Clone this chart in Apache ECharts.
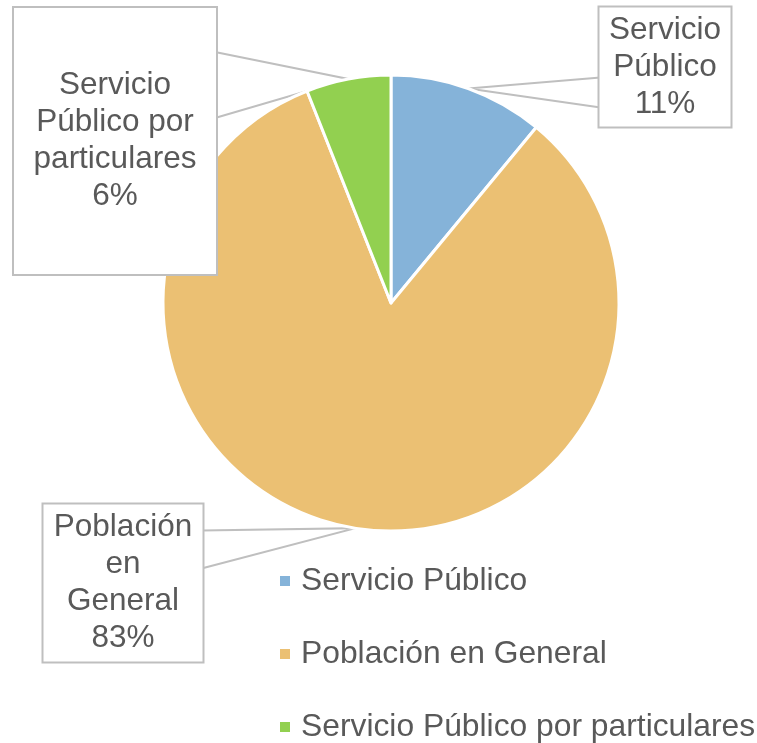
<!DOCTYPE html>
<html>
<head>
<meta charset="utf-8">
<style>
html, body { margin: 0; padding: 0; background: #fff; }
#chart { width: 757px; height: 743px; }
</style>
<script src="https://cdn.jsdelivr.net/npm/echarts@6/dist/echarts.min.js"></script>
</head>
<body>
<div id="chart"></div>
<script>
// categories and values (percent of total)
var categories = ['Servicio Público', 'Población en General', 'Servicio Público por particulares'];
var values = [11, 83, 6];
// how each callout wraps its name
var wrappedNames = ['Servicio\nPúblico', 'Población\nen\nGeneral', 'Servicio\nPúblico por\nparticulares'];
var colors = ['#85b3d9', '#ebc073', '#92d050'];

// callout boxes: center, size, and where the pointer meets the box edge
// side: -1 = left edge, 1 = right edge; a/b = offsets from box top
var boxes = [
  { cx: 665, cy: 67, w: 131, h: 119, side: -1, a: 70, b: 100 },
  { cx: 123, cy: 583, w: 159, h: 157, side: 1, a: 26, b: 64 },
  { cx: 115, cy: 141, w: 202, h: 266, side: 1, a: 44, b: 110 }
];
var lh = 37;
var font = 'Liberation Sans, Arial, sans-serif';

var chart = echarts.init(document.getElementById('chart'));

var pieData = categories.map(function (name, i) {
  var nLines = wrappedNames[i].split('\n').length + 1;
  var padV = Math.max(0, (boxes[i].h - nLines * lh) / 2);
  return {
    name: name,
    value: values[i],
    label: {
      width: boxes[i].w - 4,
      padding: [padV, 2]
    }
  };
});

var option = {
  animation: false,
  color: colors,
  legend: {
    orient: 'vertical',
    left: 278,
    top: 565,
    padding: 0,
    itemGap: 41,
    itemWidth: 12,
    itemHeight: 12,
    icon: 'rect',
    textStyle: {
      fontFamily: font,
      fontSize: 31.8,
      lineHeight: 32,
      color: '#595959',
      padding: [0, 0, 0, 5]
    },
    data: categories
  },
  series: [{
    type: 'pie',
    center: [391, 303],
    radius: 228,
    startAngle: 90,
    clockwise: true,
    itemStyle: { borderColor: '#fff', borderWidth: 3 },
    label: {
      show: true,
      position: 'outside',
      fontFamily: font,
      fontSize: 31.5,
      lineHeight: lh,
      color: '#595959',
      align: 'center',
      backgroundColor: '#fff',
      borderColor: '#bfbfbf',
      borderWidth: 2,
      formatter: function (p) {
        return wrappedNames[p.dataIndex] + '\n' + Math.round(p.percent) + '%';
      }
    },
    labelLine: {
      show: true,
      length: 10,
      length2: 10,
      lineStyle: { color: '#bfbfbf', width: 2 }
    },
    labelLayout: function (p) {
      var b = boxes[p.dataIndex];
      var res = { x: b.cx, y: b.cy, align: 'center', verticalAlign: 'middle' };
      if (p.labelLinePoints && p.labelLinePoints.length) {
        var tip = p.labelLinePoints[0];
        var ex = b.cx + b.side * (b.w / 2 - 1);
        var top = b.cy - b.h / 2;
        res.labelLinePoints = [[ex, top + b.a], [tip[0], tip[1]], [ex, top + b.b]];
      }
      return res;
    },
    data: pieData
  }]
};

chart.setOption(option);
</script>
</body>
</html>
